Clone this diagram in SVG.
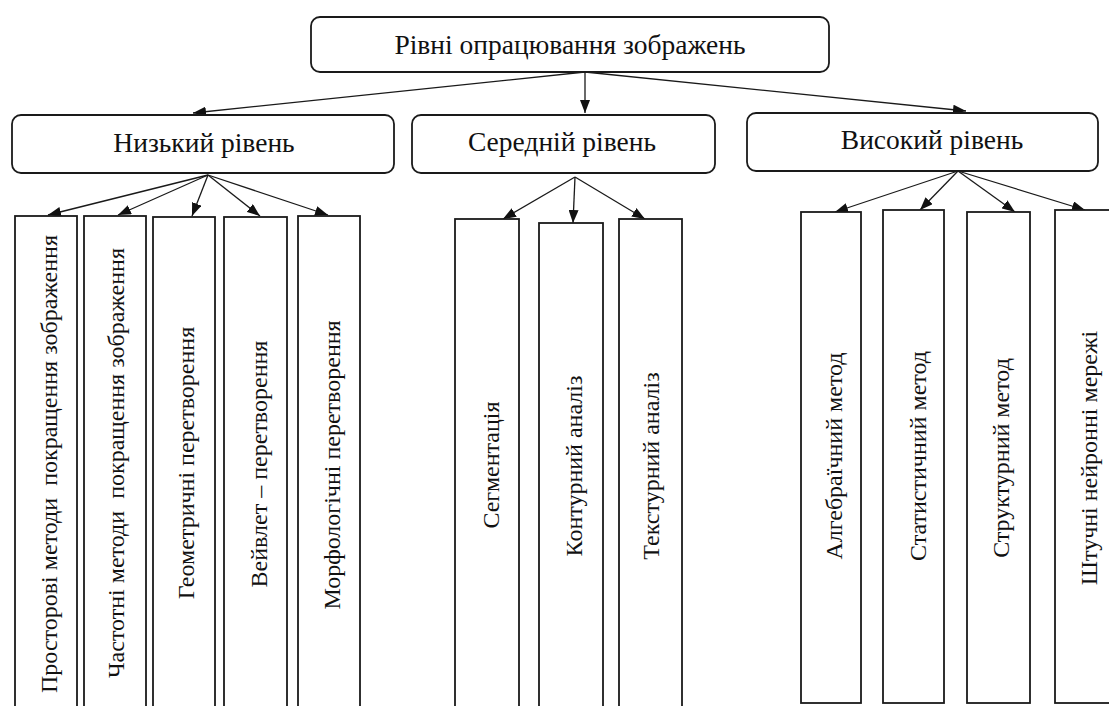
<svg xmlns="http://www.w3.org/2000/svg" width="1109" height="706" viewBox="0 0 1109 706">
<style>
.box{fill:#fff;stroke:#1a1a1a;stroke-width:1.8}
.lv{fill:#fff;stroke:#1a1a1a;stroke-width:1.8}
.t{font-family:"Liberation Serif","Times New Roman",serif;fill:#111;text-anchor:middle;white-space:pre}
.h{font-size:27.5px}
.v{font-size:24px}
.c{stroke:#1a1a1a;stroke-width:1.3;fill:none;marker-end:url(#ah)}
</style>
<defs>
<marker id="ah" markerUnits="userSpaceOnUse" markerWidth="14" markerHeight="10" refX="13" refY="5" orient="auto">
<path d="M0,0 L13,5 L0,10 z" fill="#111"/>
</marker>
</defs>
<rect width="1109" height="706" fill="#fff"/>
<g id="connectors">
<line class="c" x1="585" y1="72" x2="193" y2="113"/>
<line class="c" x1="585" y1="72" x2="585" y2="113"/>
<line class="c" x1="585" y1="72" x2="966" y2="111"/>
<line class="c" x1="208" y1="175" x2="48" y2="215"/>
<line class="c" x1="208" y1="175" x2="118" y2="215"/>
<line class="c" x1="208" y1="175" x2="192" y2="216"/>
<line class="c" x1="208" y1="175" x2="260" y2="216"/>
<line class="c" x1="208" y1="175" x2="328" y2="215"/>
<line class="c" x1="575" y1="177" x2="503" y2="219"/>
<line class="c" x1="575" y1="177" x2="573" y2="223"/>
<line class="c" x1="575" y1="177" x2="645" y2="219"/>
<line class="c" x1="958" y1="171" x2="835" y2="212"/>
<line class="c" x1="958" y1="171" x2="920" y2="210"/>
<line class="c" x1="958" y1="171" x2="1015" y2="212"/>
<line class="c" x1="958" y1="171" x2="1085" y2="210"/>
</g>
<g id="root">
<rect class="lv" x="311" y="17" width="518" height="55" rx="9"/>
<text class="t h" x="570" y="54">Рівні опрацювання зображень</text>
</g>
<g id="low">
<rect class="lv" x="12" y="115" width="382" height="58" rx="9"/>
<text class="t h" x="204" y="152">Низький рівень</text>
</g>
<g id="mid">
<rect class="lv" x="412" y="115" width="303" height="58" rx="9"/>
<text class="t h" x="562" y="151">Середній рівень</text>
</g>
<g id="high">
<rect class="lv" x="747" y="113" width="351" height="58" rx="9"/>
<text class="t h" x="932" y="149">Високий рівень</text>
</g>
<g id="low1">
<rect class="box" x="15" y="216" width="62" height="510"/>
<text class="t v" transform="translate(57,464) rotate(-90)">Просторові методи  покращення зображення</text>
</g>
<g id="low2">
<rect class="box" x="84" y="216" width="62" height="510"/>
<text class="t v" transform="translate(124,463) rotate(-90)">Частотні методи  покращення зображення</text>
</g>
<g id="low3">
<rect class="box" x="153" y="217" width="62" height="510"/>
<text class="t v" transform="translate(194,463) rotate(-90)">Геометричні перетворення</text>
</g>
<g id="low4">
<rect class="box" x="224" y="217" width="63" height="510"/>
<text class="t v" transform="translate(267,464) rotate(-90)">Вейвлет – перетворення</text>
</g>
<g id="low5">
<rect class="box" x="298" y="216" width="62" height="510"/>
<text class="t v" transform="translate(340,465) rotate(-90)">Морфологічні перетворення</text>
</g>
<g id="mid1">
<rect class="box" x="455" y="219" width="64" height="510"/>
<text class="t v" transform="translate(499,465) rotate(-90)">Сегментація</text>
</g>
<g id="mid2">
<rect class="box" x="539" y="223" width="64" height="510"/>
<text class="t v" transform="translate(582,466) rotate(-90)">Контурний аналіз</text>
</g>
<g id="mid3">
<rect class="box" x="619" y="219" width="63" height="510"/>
<text class="t v" transform="translate(659,466) rotate(-90)">Текстурний аналіз</text>
</g>
<g id="high1">
<rect class="box" x="801" y="212" width="60" height="491"/>
<text class="t v" transform="translate(842,456) rotate(-90)">Алгебраїчний метод</text>
</g>
<g id="high2">
<rect class="box" x="883" y="210" width="61" height="493"/>
<text class="t v" transform="translate(926,456) rotate(-90)">Статистичний метод</text>
</g>
<g id="high3">
<rect class="box" x="967" y="212" width="63" height="491"/>
<text class="t v" transform="translate(1009,458) rotate(-90)">Структурний метод</text>
</g>
<g id="high4">
<rect class="box" x="1055" y="210" width="70" height="493"/>
<text class="t v" transform="translate(1097,458) rotate(-90)">Штучні нейронні мережі</text>
</g>
</svg>
